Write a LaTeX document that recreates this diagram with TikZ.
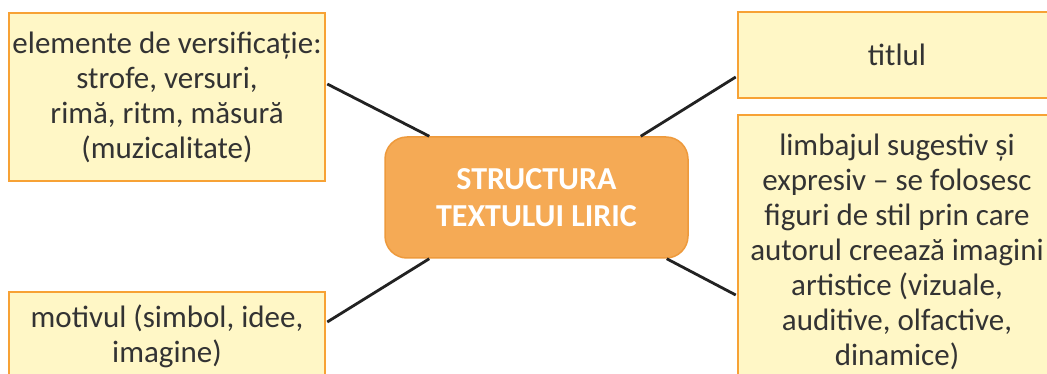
\documentclass[tikz,border=0pt]{standalone}
\usepackage{fontspec}
\setmainfont{Carlito}
\usetikzlibrary{calc}
\definecolor{boxfill}{HTML}{FFF7C6}
\definecolor{boxline}{HTML}{F7A235}
\definecolor{cfill}{HTML}{F5AA55}
\definecolor{cline}{HTML}{EE9A3C}
\definecolor{txt}{HTML}{333333}
\definecolor{conn}{HTML}{222222}
\tikzset{
  leaf/.style={draw=boxline, line width=2.5pt, fill=boxfill, rectangle, align=center,
    text=txt, inner sep=0pt, font=\fontsize{31}{35}\selectfont},
  hub/.style={draw=cline, line width=1.5pt, fill=cfill, rounded corners=22pt, align=center,
    text=white, inner sep=0pt, font=\fontsize{32}{37}\selectfont\bfseries},
  link/.style={draw=conn, line width=2.8pt}
}
\begin{document}
\begin{tikzpicture}[x=1pt,y=-1pt]
\useasboundingbox (0,0) rectangle (1047,374);
\fill[white] (0,0) rectangle (1047,374);
\clip (0,0) rectangle (1047,374);
\node[hub, minimum width=303pt, minimum height=121pt] (c) at (536.5,197.5) {STRUCTURA\\TEXTULUI LIRIC};
\node[leaf, minimum width=316pt, minimum height=168pt] (b1) at (167,97)
  {elemente de versificație:\\strofe, versuri,\\rimă, ritm, măsură\\(muzicalitate)};
\node[leaf, minimum width=316pt, minimum height=88pt] (b2) at (167,336)
  {motivul (simbol, idee,\\imagine)};
\node[leaf, minimum width=318pt, minimum height=86pt] (b3) at (897,55) {titlul};
\node[leaf, minimum width=318pt, minimum height=274pt] (b4) at (897,252)
  {limbajul sugestiv și\\expresiv – se folosesc\\figuri de stil prin care\\autorul creează imagini\\artistice (vizuale,\\auditive, olfactive,\\dinamice)};
\draw[link] ($(b1.east)+(1,-13)$) -- ($(c.north west)+(45,0)$);
\draw[link] ($(b2.east)+(1,-14)$) -- ($(c.south west)+(45,0)$);
\draw[link] ($(b3.west)+(-1,22)$) -- ($(c.north east)+(-48,0)$);
\draw[link] ($(b4.west)+(-1,43)$) -- ($(c.south east)+(-22,0)$);
\end{tikzpicture}
\end{document}
